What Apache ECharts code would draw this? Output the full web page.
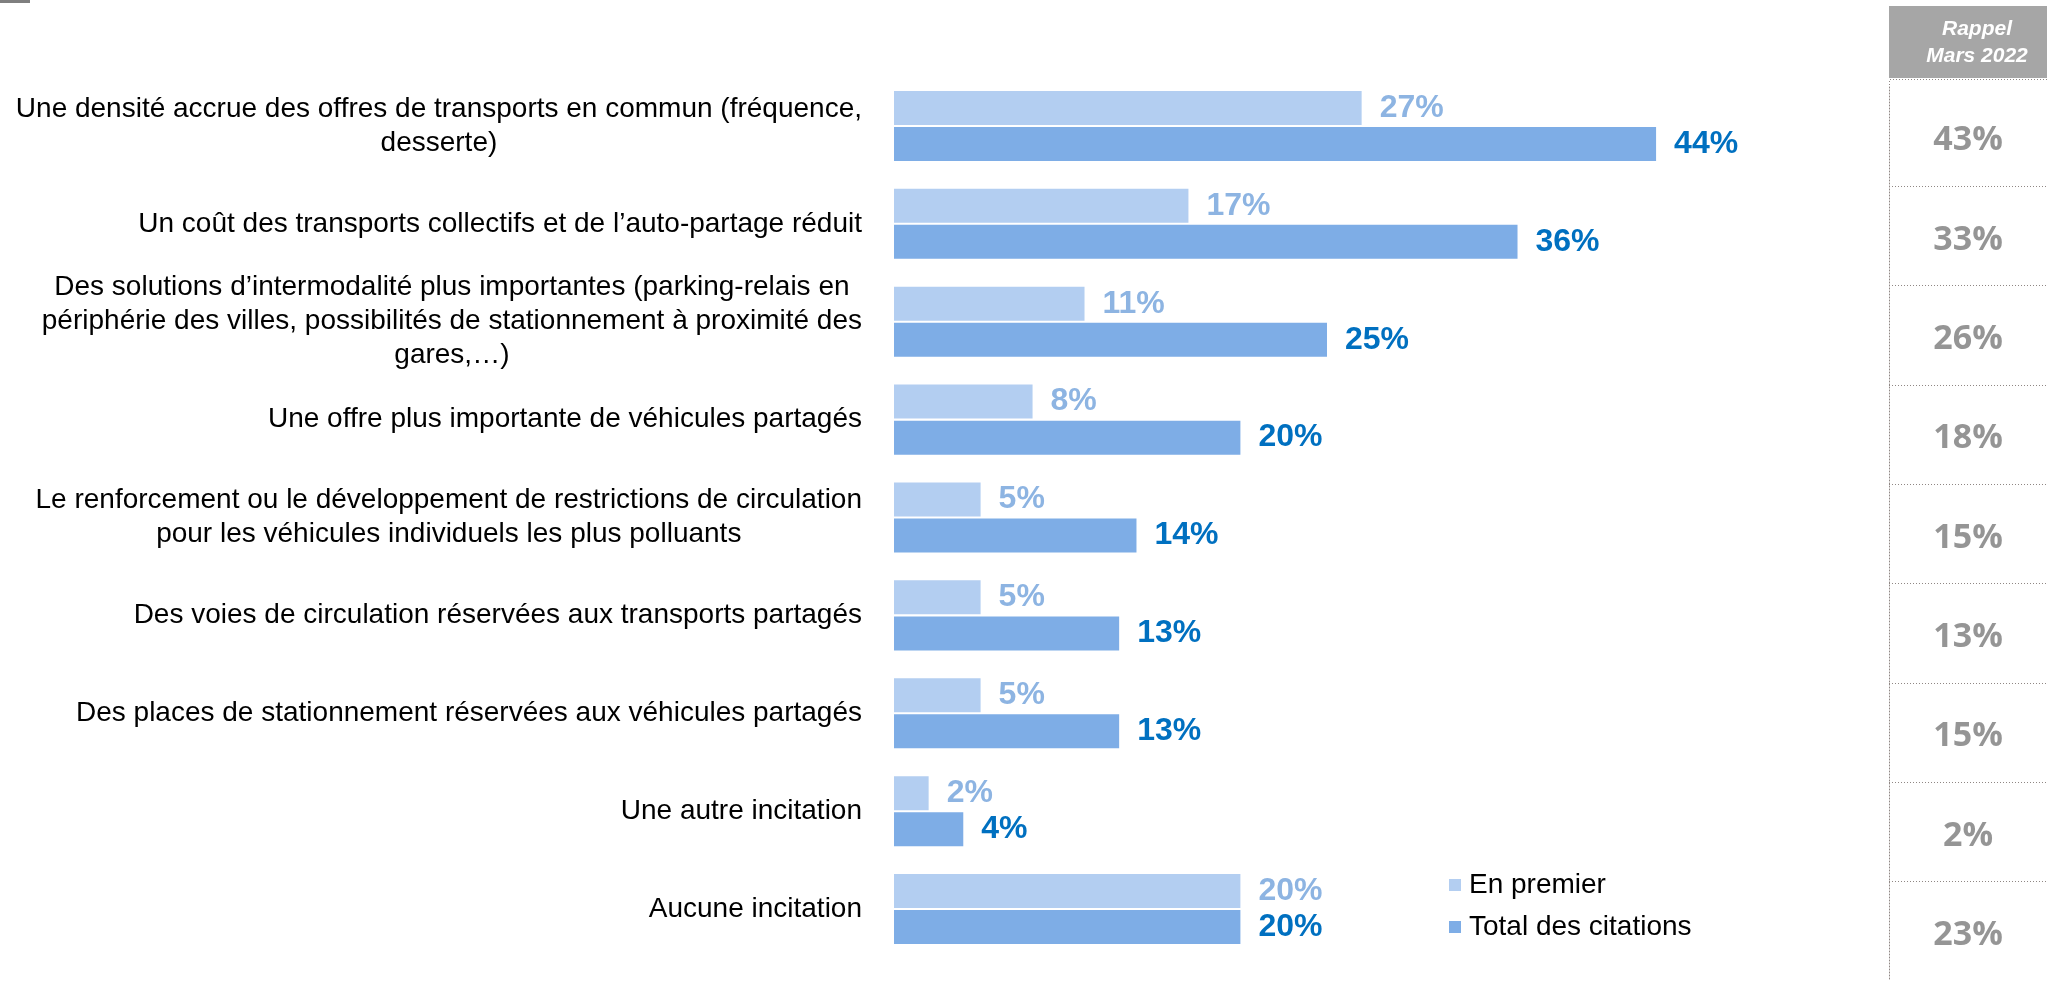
<!DOCTYPE html>
<html>
<head>
<meta charset="utf-8">
<script src="https://cdn.jsdelivr.net/npm/echarts@6/dist/echarts.min.js"></script>
<style>
  html, body { margin: 0; padding: 0; background: #fff; }
  #chart { width: 2047px; height: 981px; }
</style>
</head>
<body>
<div id="chart"></div>
<script>
'use strict';
var categories = [
  'Une densité accrue des offres de transports en commun (fréquence,\ndesserte)',
  'Un coût des transports collectifs et de l’auto-partage réduit',
  'Des solutions d’intermodalité plus importantes (parking-relais en\npériphérie des villes, possibilités de stationnement à proximité des\ngares,…)',
  'Une offre plus importante de véhicules partagés',
  'Le renforcement ou le développement de restrictions de circulation\npour les véhicules individuels les plus polluants',
  'Des voies de circulation réservées aux transports partagés',
  'Des places de stationnement réservées aux véhicules partagés',
  'Une autre incitation',
  'Aucune incitation'
];
var enPremier = [27, 17, 11, 8, 5, 5, 5, 2, 20];
var totalCitations = [44, 36, 25, 20, 14, 13, 13, 4, 20];
var rappelMars2022 = [43, 33, 26, 18, 15, 13, 15, 2, 23];
var seriesNames = ['En premier', 'Total des citations'];
var rappelTitle = 'Rappel\nMars 2022';

var FONT = '"Liberation Sans", Arial, sans-serif';
var DOT_COLOR = '#8f8784';
var chart = echarts.init(document.getElementById('chart'));

// libellés : lignes centrées dans le bloc, bloc aligné à droite
function labelFormatter(value) {
  return value.split('\n').map(function (l) { return '{c|' + l + '}'; }).join('\n');
}

var option = {
  animation: false,
  backgroundColor: '#fff',
  legend: {
    data: seriesNames,
    orient: 'vertical',
    left: 1444,
    top: 866,
    icon: 'rect',
    itemWidth: 12,
    itemHeight: 12,
    itemGap: 14,
    selectedMode: false,
    textStyle: { fontFamily: FONT, fontSize: 28, color: '#000', padding: [0, 0, 0, 3] }
  },
  grid: [
    { left: 894, top: 77, width: 866, height: 881 },
    { left: 1889, top: 87, width: 176, height: 901 }
  ],
  xAxis: [
    { type: 'value', min: 0, max: 50, show: false, gridIndex: 0 },
    { type: 'value', min: 0, max: 1, show: false, gridIndex: 1 }
  ],
  yAxis: [{
    type: 'category',
    gridIndex: 0,
    inverse: true,
    data: categories,
    axisLine: { show: false },
    axisTick: { show: false },
    axisLabel: {
      margin: 32,
      formatter: labelFormatter,
      rich: {
        c: { align: 'center', fontFamily: FONT, fontSize: 28, lineHeight: 34, color: '#000' }
      }
    }
  }, {
    type: 'category',
    gridIndex: 1,
    inverse: true,
    data: categories,
    axisLabel: { show: false },
    axisTick: { show: false },
    axisLine: { show: true, lineStyle: { color: DOT_COLOR, type: [1, 2], width: 1 } },
    splitLine: {
      show: true,
      interval: function (i) { return i > 0; },
      lineStyle: { color: DOT_COLOR, type: [1, 2], width: 1 }
    }
  }],
  series: [{
    name: seriesNames[0],
    type: 'bar',
    data: enPremier,
    barWidth: 34,
    barGap: '6%',
    itemStyle: { color: '#b3cef1' },
    label: {
      show: true,
      position: 'right',
      distance: 18,
      formatter: '{c}%',
      fontFamily: FONT,
      fontSize: 32,
      fontWeight: 'bold',
      color: '#8db4e2'
    }
  }, {
    name: seriesNames[1],
    type: 'bar',
    data: totalCitations,
    barWidth: 34,
    itemStyle: { color: '#7eade6' },
    label: {
      show: true,
      position: 'right',
      distance: 18,
      formatter: '{c}%',
      fontFamily: FONT,
      fontSize: 32,
      fontWeight: 'bold',
      color: '#0070c0'
    }
  }, {
    // colonne "Rappel Mars 2022"
    type: 'scatter',
    xAxisIndex: 1,
    yAxisIndex: 1,
    symbolSize: 0,
    data: rappelMars2022.map(function (v, i) { return [0.5, i, v]; }),
    label: {
      show: true,
      position: 'inside',
      offset: [0, 4],
      formatter: function (p) { return p.value[2] + '%'; },
      fontFamily: '"Open Sans", sans-serif',
      fontSize: 34,
      fontWeight: 'bold',
      color: '#7a7a7a'
    }
  }],
  graphic: [
    { type: 'rect', left: 0, top: 0, shape: { width: 30, height: 3 }, style: { fill: '#7f7f7f' } },
    { type: 'rect', left: 1889, top: 6, shape: { width: 160, height: 72 }, style: { fill: '#a6a6a6' } },
    {
      type: 'text', x: 1977, y: 43,
      style: {
        text: rappelTitle, align: 'center', verticalAlign: 'middle',
        font: 'italic bold 21px ' + FONT, lineHeight: 27, fill: '#fff'
      }
    },
    {
      type: 'polyline',
      shape: { points: [[2047, 79.5], [1889.5, 79.5], [1889.5, 87]] },
      style: { stroke: DOT_COLOR, lineWidth: 1, lineDash: [1, 2], fill: null }
    }
  ]
};

chart.setOption(option);
</script>
</body>
</html>
